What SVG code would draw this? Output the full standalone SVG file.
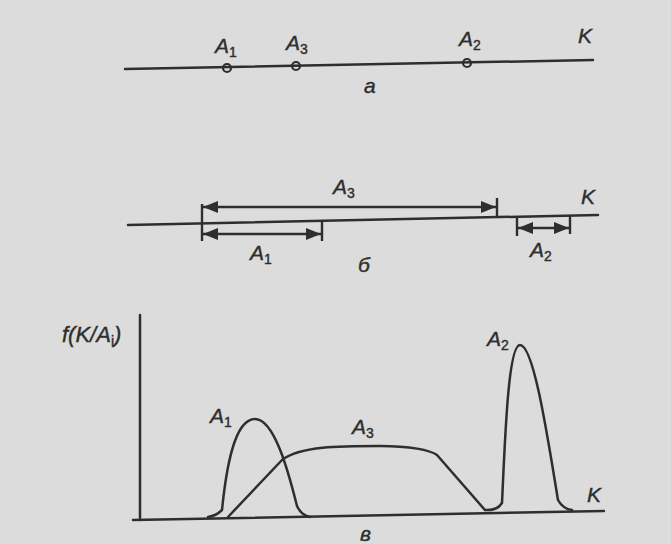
<svg xmlns="http://www.w3.org/2000/svg" width="671" height="544" viewBox="0 0 671 544">
<defs>
<marker id="ah" viewBox="0 0 15 12" refX="15" refY="6" markerWidth="15" markerHeight="12" markerUnits="userSpaceOnUse" orient="auto-start-reverse">
<path d="M0,0 L15,6 L0,12 Z" fill="#2e2e2e"/>
</marker>
</defs>
<style>
.ln{stroke:#2e2e2e;stroke-width:2.5;fill:none;stroke-linecap:round;stroke-linejoin:round}
.tk{stroke:#2e2e2e;stroke-width:2.4;fill:none}
.pt{stroke:#2e2e2e;stroke-width:2.2;fill:none}
.t{font-family:"Liberation Sans",Arial,sans-serif;font-style:italic;font-size:21px;fill:#2e2e2e;stroke:#2e2e2e;stroke-width:0.4}
.s{font-size:14px;font-style:normal}
</style>
<rect width="671" height="544" fill="#dcdcdc"/>
<g id="panel-a">
<line class="ln" x1="125" y1="69" x2="593" y2="60"/>
<circle class="pt" cx="227" cy="68" r="4"/>
<circle class="pt" cx="296" cy="66" r="4"/>
<circle class="pt" cx="467" cy="63" r="4"/>
<text class="t" x="215" y="53">A<tspan class="s" dy="4">1</tspan></text>
<text class="t" x="286" y="50">A<tspan class="s" dy="4">3</tspan></text>
<text class="t" x="459" y="46">A<tspan class="s" dy="4">2</tspan></text>
<text class="t" x="578" y="43">K</text>
<text class="t" x="364" y="93">а</text>
</g>
<g id="panel-b">
<line class="ln" x1="128" y1="225" x2="598" y2="215"/>
<g id="connectors">
<line class="tk" x1="202" y1="204" x2="202" y2="241"/>
<line class="tk" x1="497" y1="198" x2="497" y2="216"/>
<line class="tk" x1="322" y1="220" x2="322" y2="241"/>
<line class="tk" x1="517" y1="218" x2="517" y2="236"/>
<line class="tk" x1="570" y1="216" x2="570" y2="234"/>
<line class="tk" x1="203" y1="207" x2="496" y2="207" marker-start="url(#ah)" marker-end="url(#ah)"/>
<line class="tk" x1="203" y1="234" x2="321" y2="234" marker-start="url(#ah)" marker-end="url(#ah)"/>
<line class="tk" x1="518" y1="228" x2="569" y2="228" marker-start="url(#ah)" marker-end="url(#ah)"/>
</g>
<text class="t" x="333" y="194">A<tspan class="s" dy="4">3</tspan></text>
<text class="t" x="250" y="260">A<tspan class="s" dy="4">1</tspan></text>
<text class="t" x="530" y="257">A<tspan class="s" dy="4">2</tspan></text>
<text class="t" x="581" y="204">K</text>
<text class="t" x="358" y="272">б</text>
</g>
<g id="panel-c">
<line class="ln" x1="140" y1="315" x2="140" y2="520"/>
<line class="ln" x1="133" y1="520" x2="604" y2="511"/>
<path class="ln" d="M208,517 Q216,516 222,510 C226,470 234,419 255,419 C274,419 288,470 297,506 Q301,515 310,517"/>
<path class="ln" d="M228,517 L282,460 C300,446 340,446 380,446 C410,446 430,450 437,455 L485,510"/>
<path class="ln" d="M485,510 Q497,511 502,503 C505,440 508,345 520,345 C534,345 548,440 558,500 Q563,509 572,510"/>
<text class="t" x="62" y="342" style="font-size:22px">f(K/A<tspan class="s" dy="4">i</tspan><tspan dy="-4">)</tspan></text>
<text class="t" x="210" y="423">A<tspan class="s" dy="4">1</tspan></text>
<text class="t" x="352" y="434">A<tspan class="s" dy="4">3</tspan></text>
<text class="t" x="487" y="346">A<tspan class="s" dy="4">2</tspan></text>
<text class="t" x="587" y="502">K</text>
<text class="t" x="360" y="541">в</text>
</g>
</svg>
